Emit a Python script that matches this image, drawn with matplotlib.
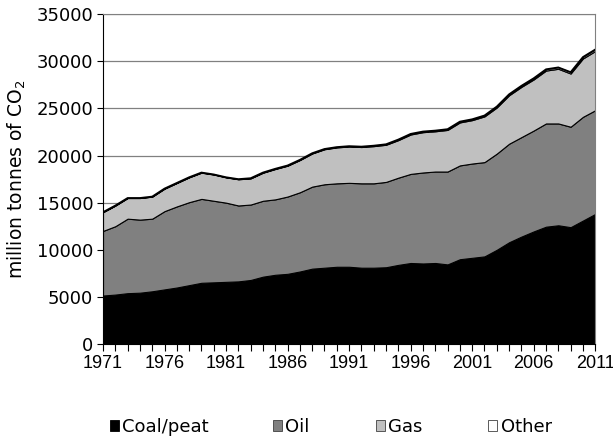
import numpy as np
import matplotlib.pyplot as plt
from matplotlib.patches import Patch

plt.rcParams['font.family'] = ['Liberation Sans', 'DejaVu Sans']

years = list(range(1971, 2012))
# cumulative tops (million tonnes CO2)
coal_top = [5150, 5250, 5400, 5450, 5600, 5800, 6000, 6250, 6500, 6550,
            6600, 6650, 6800, 7150, 7350, 7450, 7700, 8000, 8100, 8200,
            8200, 8100, 8100, 8150, 8400, 8600, 8550, 8600, 8450, 9000,
            9150, 9300, 10000, 10800, 11400, 11950, 12450, 12600, 12400, 13100,
            13800]
oil_top = [12000, 12500, 13300, 13200, 13300, 14100, 14600, 15050, 15400, 15200,
           15000, 14700, 14800, 15200, 15350, 15650, 16100, 16700, 16950, 17050,
           17100, 17050, 17050, 17200, 17650, 18050, 18200, 18300, 18300, 18950,
           19150, 19300, 20200, 21250, 21950, 22650, 23400, 23400, 23050, 24100,
           24800]
total = [14000, 14700, 15500, 15500, 15650, 16500, 17100, 17700, 18200, 18000,
         17700, 17500, 17600, 18200, 18600, 18950, 19550, 20250, 20700, 20900,
         21000, 20950, 21050, 21200, 21700, 22300, 22550, 22650, 22800, 23600,
         23850, 24250, 25200, 26500, 27400, 28200, 29150, 29350, 28850, 30450,
         31250]
other = [10, 10, 10, 10, 10, 15, 15, 15, 20, 20,
         20, 20, 25, 25, 30, 30, 30, 35, 35, 40,
         45, 50, 55, 60, 65, 70, 75, 80, 85, 90,
         95, 100, 105, 110, 120, 130, 140, 150, 155, 160,
         170]

coal = np.array(coal_top)
oil = np.array(oil_top) - coal
gas = np.array(total) - np.array(other) - np.array(oil_top)
oth = np.array(other)

labels = ['Coal/peat', 'Oil', 'Gas', 'Other']
colors = ['#000000', '#808080', '#c0c0c0', '#ffffff']

fig = plt.figure(figsize=(6.13, 4.40), dpi=100)
ax = fig.add_axes([0.168, 0.218, 0.803, 0.75])

ax.stackplot(years, coal, oil, gas, oth, colors=colors,
             edgecolor='black', linewidth=0.8, zorder=2)
ax.plot(years, total, color='black', linewidth=1.2, zorder=3)

ax.set_xlim(1971, 2011)
ax.set_ylim(0, 35000)
ax.set_yticks(range(0, 35001, 5000))
ax.set_xticks(range(1971, 2012, 5))
ax.set_xticks(years, minor=True)
ax.grid(axis='y', color='#808080', linewidth=0.9, zorder=0)
ax.set_axisbelow(True)

for s in ['top', 'right']:
    ax.spines[s].set_color('#808080')
ax.spines['left'].set_color('black')
ax.spines['bottom'].set_color('black')

ax.tick_params(axis='x', which='both', direction='out', length=5, width=0.8,
               labelsize=13, pad=3)
ax.tick_params(axis='y', direction='out', length=4, width=0.8, pad=3)
for t in ax.get_yticklabels():
    t.set_fontfamily('DejaVu Sans')
    t.set_fontsize(13)
ax.set_ylabel('million tonnes of CO$_2$', fontsize=13.5, family='DejaVu Sans')
ax.yaxis.set_label_coords(-0.152, 0.5)

xs = [0.179, 0.445, 0.613, 0.796]
for lab, col, xp in zip(labels, colors, xs):
    h = Patch(facecolor=col, edgecolor='#404040' if col != '#000000' else 'black', linewidth=0.6)
    fig.legend([h], [lab], loc='center left', bbox_to_anchor=(xp, 0.03),
               frameon=False, prop={'family': 'DejaVu Sans', 'size': 13},
               handlelength=0.5, handleheight=0.5,
               handletextpad=0.2, borderpad=0, borderaxespad=0)

fig.savefig('out.png', dpi=100)
